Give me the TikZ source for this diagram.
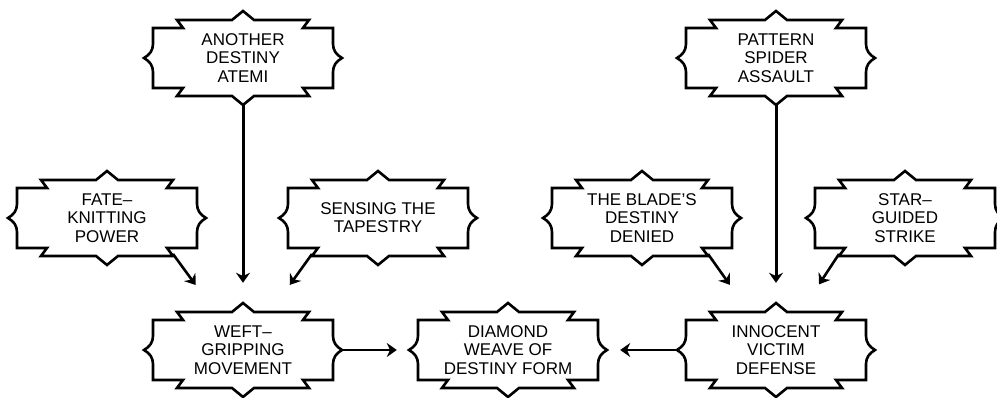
\documentclass[tikz,border=0pt]{standalone}
\usepackage{fontspec}
\setmainfont{Liberation Sans}
\usetikzlibrary{arrows.meta}

\begin{document}
\begin{tikzpicture}[
  x=1pt, y=1pt,
  font=\fontsize{17}{18.3}\selectfont,
  move/.style={rectangle, minimum width=198pt, minimum height=94pt, inner sep=0pt, align=center},
  frame/.style={draw=black, line width=2.6pt, line join=miter},
  feed/.style={-{Stealth[length=10pt,width=14pt]}, draw=black, line width=2.6pt, shorten >=22pt},
  link/.style={-{Stealth[length=10pt,width=14pt]}, draw=black, line width=1.5pt}
]
\useasboundingbox (0,0) rectangle (997,398);

\node[move] (another)  at (243,340) {ANOTHER\\DESTINY\\ATEMI};
\node[move] (fate)     at (107,180) {FATE–\\KNITTING\\POWER};
\node[move] (sensing)  at (378,180) {SENSING THE\\TAPESTRY};
\node[move] (weft)     at (243, 48) {WEFT–\\GRIPPING\\MOVEMENT};
\node[move] (diamond)  at (508, 48) {DIAMOND\\WEAVE OF\\DESTINY FORM};
\node[move] (pattern)  at (776,340) {PATTERN\\SPIDER\\ASSAULT};
\node[move] (blade)    at (642,180) {THE BLADE’S\\DESTINY\\DENIED};
\node[move] (star)     at (905,180) {STAR–\\GUIDED\\STRIKE};
\node[move] (innocent) at (776, 48) {INNOCENT\\VICTIM\\DEFENSE};

\foreach \n in {another,fate,sensing,weft,diamond,pattern,blade,star,innocent}
  \draw[frame, shift={(\n)}]
    (-66,38) -- (-11,38) -- (0,47) -- (11,38) -- (66,38) -- (60,30) -- (90,30) -- (90,14)
    to[out=-90,in=150] (99,0) to[out=-150,in=90] (90,-14) -- (90,-30) -- (60,-30)
    -- (66,-38) -- (11,-38) -- (0,-47) -- (-11,-38) -- (-66,-38) -- (-60,-30) -- (-90,-30)
    -- (-90,-14) to[out=90,in=-30] (-99,0) to[out=30,in=-90] (-90,14) -- (-90,30) -- (-60,30) -- cycle;

\draw[feed] ([xshift=66pt,yshift=-36pt]fate.center) -- (weft);
\draw[feed, shorten >=20pt, line width=3pt] (another) -- (weft);
\draw[feed] ([xshift=-66pt,yshift=-36pt]sensing.center) -- (weft);
\draw[feed] ([xshift=66pt,yshift=-36pt]blade.center) -- (innocent);
\draw[feed, shorten >=20pt, line width=3pt] (pattern) -- (innocent);
\draw[feed] ([xshift=-66pt,yshift=-36pt]star.center) -- (innocent);
\draw[link, shorten >=12pt] (weft) -- (diamond);
\draw[link, shorten >=13pt] (innocent) -- (diamond);
\end{tikzpicture}
\end{document}
